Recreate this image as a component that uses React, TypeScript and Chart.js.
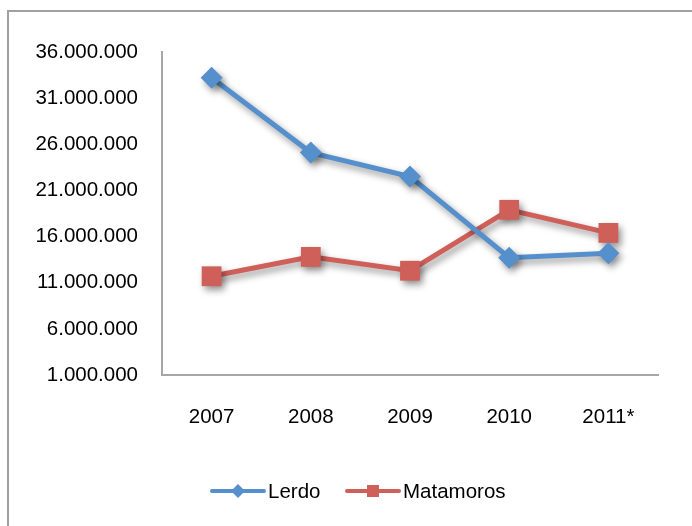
import React, { useEffect, useRef } from "react";
import { Chart, registerables } from "chart.js";

Chart.register(...registerables);

const categories = ["2007", "2008", "2009", "2010", "2011*"];
const lerdo = [33200000, 25100000, 22500000, 13700000, 14200000];
const matamoros = [11700000, 13800000, 12300000, 18900000, 16400000];
const seriesNames = ["Lerdo", "Matamoros"];
const yMin = 1000000;
const yMax = 36000000;
const yStep = 5000000;

const BLUE = "#5690CC";
const RED = "#CF5F59";
const FONT = "'Liberation Sans', Arial, sans-serif";
const FSIZE = 20.5;

const fmt = (v: number) =>
  Math.round(v)
    .toString()
    .replace(/\B(?=(\d{3})+(?!\d))/g, ".");

const shadowPlugin = {
  id: "shadow",
  beforeDatasetsDraw(chart: any) {
    const ctx = chart.ctx;
    ctx.save();
    ctx.shadowColor = "rgba(0,0,0,0.42)";
    ctx.shadowBlur = 7;
    ctx.shadowOffsetX = 3;
    ctx.shadowOffsetY = 4;
  },
  afterDatasetsDraw(chart: any) {
    chart.ctx.restore();
  },
};

const legendPlugin = {
  id: "customLegend",
  afterDraw(chart: any) {
    const ctx = chart.ctx;
    const y = 491;
    const items = [
      { x: 212, color: BLUE, style: "diamond", label: seriesNames[0] },
      { x: 347, color: RED, style: "square", label: seriesNames[1] },
    ];
    ctx.save();
    items.forEach((it) => {
      ctx.strokeStyle = it.color;
      ctx.lineWidth = 4;
      ctx.lineCap = "round";
      ctx.beginPath();
      ctx.moveTo(it.x, y);
      ctx.lineTo(it.x + 52, y);
      ctx.stroke();
      ctx.fillStyle = it.color;
      const cx = it.x + 26;
      ctx.beginPath();
      if (it.style === "diamond") {
        const r = 7;
        ctx.moveTo(cx, y - r);
        ctx.lineTo(cx + r, y);
        ctx.lineTo(cx, y + r);
        ctx.lineTo(cx - r, y);
        ctx.closePath();
      } else {
        ctx.rect(cx - 6, y - 6, 12, 12);
      }
      ctx.fill();
      ctx.fillStyle = "#000";
      ctx.font = `${FSIZE}px ${FONT}`;
      ctx.textAlign = "left";
      ctx.textBaseline = "middle";
      ctx.fillText(it.label, it.x + 56, y + 1);
    });
    ctx.restore();
  },
};

export default function App() {
  const ref = useRef<HTMLCanvasElement>(null);
  useEffect(() => {
    if (!ref.current) return;
    const chart = new Chart(ref.current, {
      type: "line",
      data: {
        labels: categories,
        datasets: [
          {
            label: seriesNames[0],
            data: lerdo,
            borderColor: BLUE,
            backgroundColor: BLUE,
            borderWidth: 5,
            pointStyle: "rectRot",
            pointRadius: 11,
            pointHoverRadius: 11,
            pointBorderWidth: 0,
            tension: 0,
          },
          {
            label: seriesNames[1],
            data: matamoros,
            borderColor: RED,
            backgroundColor: RED,
            borderWidth: 5,
            pointStyle: "rect",
            pointRadius: 14,
            pointHoverRadius: 14,
            pointBorderWidth: 0,
            tension: 0,
          },
        ],
      },
      options: {
        responsive: false,
        animation: false,
        events: [],
        layout: { padding: { left: 0, top: 52, right: 34, bottom: 0 } },
        plugins: {
          legend: { display: false },
          tooltip: { enabled: false },
        },
        scales: {
          x: {
            offset: true,
            grid: { display: false, drawTicks: false },
            border: { display: true, color: "#a6a6a6", width: 2 },
            ticks: {
              padding: 30,
              color: "#000",
              font: { family: FONT, size: FSIZE },
            },
            afterFit(scale: any) {
              scale.height = 151;
            },
          },
          y: {
            min: yMin,
            max: yMax,
            grid: { display: false, drawTicks: false },
            border: { display: true, color: "#a6a6a6", width: 2 },
            ticks: {
              stepSize: yStep,
              padding: 24,
              color: "#000",
              font: { family: FONT, size: FSIZE },
              callback: (v: any) => fmt(Number(v)),
            },
            afterFit(scale: any) {
              scale.width = 162;
            },
          },
        },
      },
      plugins: [shadowPlugin, legendPlugin],
    });
    return () => chart.destroy();
  }, []);

  return (
    <div
      style={{
        position: "fixed",
        left: 0,
        top: 0,
        width: 692,
        height: 526,
        background: "#fff",
        overflow: "hidden",
      }}
    >
      <canvas
        ref={ref}
        width={692}
        height={526}
        style={{ position: "absolute", left: 0, top: 0, width: 692, height: 526 }}
      />
      <div
        style={{
          position: "absolute",
          left: 7,
          top: 10,
          width: 700,
          height: 600,
          borderTop: "2px solid #a0a0a0",
          borderLeft: "2px solid #a0a0a0",
          pointerEvents: "none",
        }}
      />
    </div>
  );
}
